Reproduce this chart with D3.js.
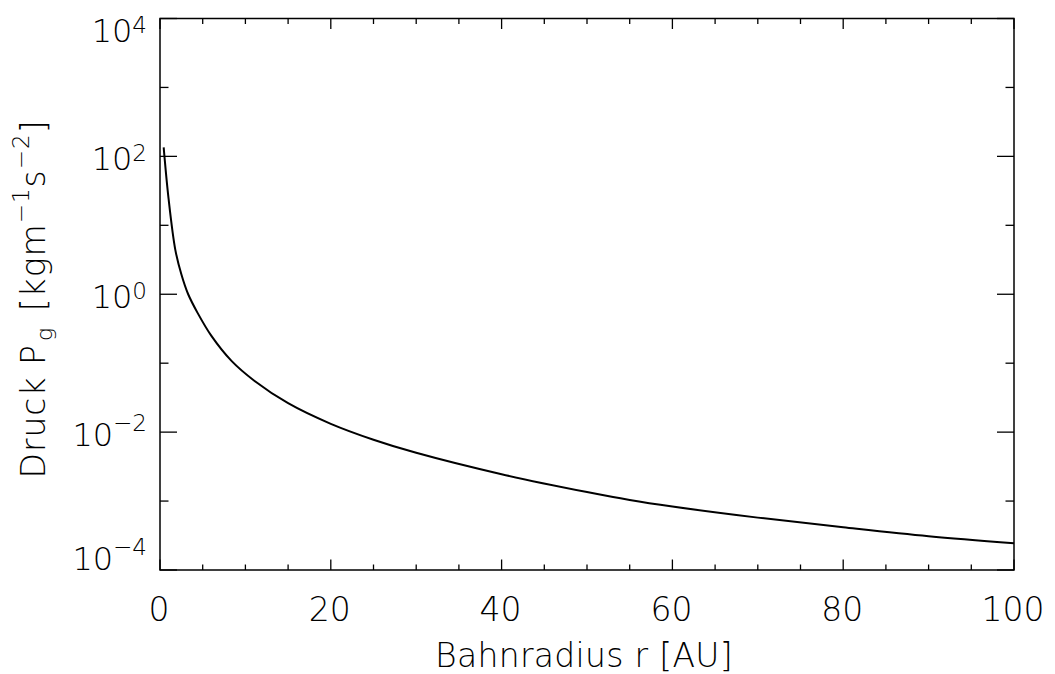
<!DOCTYPE html>
<html><head><meta charset="utf-8">
<script src="https://cdn.jsdelivr.net/npm/d3@7"></script>
<style>
body{margin:0;background:#fff;}
text{font-family:"DejaVu Sans",sans-serif;font-weight:200;fill:#000;}
</style>
</head><body>
<svg id="c" width="1055" height="674"></svg>
<script>
// Data
const radiusAU = [0.43, 1.0, 1.8, 2.5, 3.3, 4.4, 6, 8.4, 11, 15, 20, 25, 30, 40, 50, 55, 60, 70, 80, 90, 100];
const pressure = [135, 24.5, 4.37, 1.95, 1.0, 0.537, 0.251, 0.107, 0.0562, 0.0263, 0.0132, 0.00776, 0.00501, 0.00245, 0.00135, 0.001035, 0.000832, 0.000575, 0.000417, 0.000309, 0.000244];
const xMajorTicks = [0, 20, 40, 60, 80, 100];
const xMinorTicks = [5, 10, 15, 25, 30, 35, 45, 50, 55, 65, 70, 75, 85, 90, 95];
const yMajorExps = [4, 2, 0, -2, -4];
const yMinorExps = [3, 1, -1, -3];

const svg = d3.select("#c");
const L = 160, R = 1014, T = 18.5, B = 570;
const x = d3.scaleLinear().domain([0, 100]).range([L, R]);
const y = d3.scaleLog().domain([1e-4, 1e4]).range([B, T]);

const g = svg.append("g");
const stroke = "#000";

// frame
g.append("rect").attr("x", L).attr("y", T).attr("width", R - L).attr("height", B - T)
  .attr("fill", "none").attr("stroke", stroke).attr("stroke-width", 1.5);

// x ticks (bottom and top)
const xt = [...xMajorTicks.map(v => ({v, len: 10.5})), ...xMinorTicks.map(v => ({v, len: 5.5}))];
g.selectAll(".xtb").data(xt).enter().append("line")
  .attr("x1", d => x(d.v)).attr("x2", d => x(d.v))
  .attr("y1", B).attr("y2", d => B - d.len).attr("stroke", stroke).attr("stroke-width", 1.3);
g.selectAll(".xtt").data(xt).enter().append("line")
  .attr("x1", d => x(d.v)).attr("x2", d => x(d.v))
  .attr("y1", T).attr("y2", d => T + d.len).attr("stroke", stroke).attr("stroke-width", 1.3);

// y ticks (left and right)
const yt = [...yMajorExps.map(e => ({v: Math.pow(10, e), len: 17})), ...yMinorExps.map(e => ({v: Math.pow(10, e), len: 8.5}))];
g.selectAll(".ytl").data(yt).enter().append("line")
  .attr("y1", d => y(d.v)).attr("y2", d => y(d.v))
  .attr("x1", L).attr("x2", d => L + d.len).attr("stroke", stroke).attr("stroke-width", 1.3);
g.selectAll(".ytr").data(yt).enter().append("line")
  .attr("y1", d => y(d.v)).attr("y2", d => y(d.v))
  .attr("x1", R).attr("x2", d => R - d.len).attr("stroke", stroke).attr("stroke-width", 1.3);

// x tick labels
g.selectAll(".xl").data(xMajorTicks).enter().append("text")
  .attr("x", d => x(d) - 1).attr("y", 621)
  .attr("text-anchor", "middle").attr("font-size", 33)
  .text(d => d);

// y tick labels
yMajorExps.forEach(e => {
  const base = Math.max(T + 23, Math.min(B, y(Math.pow(10, e)) + 14));
  const t = g.append("text").attr("x", 147).attr("y", base)
    .attr("text-anchor", "end").attr("font-size", 32);
  t.append("tspan").text("10");
  t.append("tspan").attr("font-size", 23).attr("dy", e < 0 ? -15 : -9)
    .text(e < 0 ? "\u2212" + (-e) : String(e));
});

// x title
g.append("text").attr("x", 584).attr("y", 667).attr("text-anchor", "middle")
  .attr("font-size", 33).attr("letter-spacing", 0.3).text("Bahnradius r [AU]");

// y title
const yt2 = g.append("text").attr("transform", "translate(45,299) rotate(-90)")
  .attr("text-anchor", "middle").attr("font-size", 33).attr("letter-spacing", 1);
yt2.append("tspan").text("Druck P");
yt2.append("tspan").attr("font-size", 22).attr("dx", 3).attr("dy", 7).text("g");
yt2.append("tspan").attr("dx", 4).attr("dy", -7).text(" [kgm");
yt2.append("tspan").attr("font-size", 23).attr("dy", -16).text("\u22121");
yt2.append("tspan").attr("dy", 16).text("s");
yt2.append("tspan").attr("font-size", 23).attr("dy", -16).text("\u22122");
yt2.append("tspan").attr("dy", 16).text("]");

// curve
const pts = radiusAU.map((r, i) => [r, pressure[i]]);
const line = d3.line().x(d => x(d[0])).y(d => y(d[1])).curve(d3.curveCatmullRom.alpha(0.5));
g.append("path").datum(pts).attr("d", line)
  .attr("fill", "none").attr("stroke", "#000").attr("stroke-width", 2);
</script>
</body></html>
